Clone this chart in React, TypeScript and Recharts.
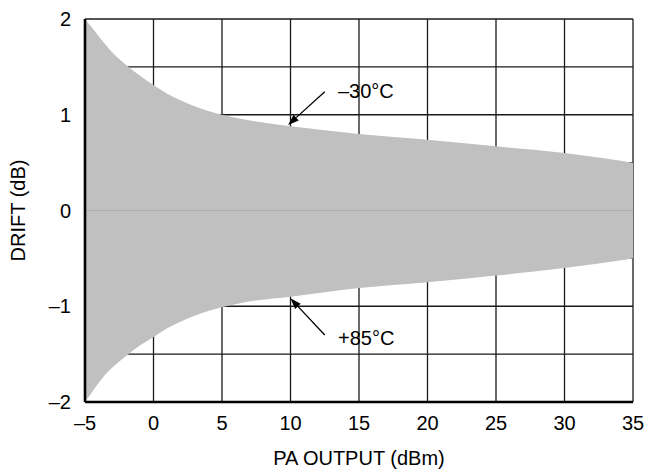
import React from 'react'
import {
  ComposedChart,
  Area,
  XAxis,
  YAxis,
  CartesianGrid,
  ReferenceLine,
  ReferenceDot,
} from 'recharts'

// PA output power (dBm)
const paOutput = [-5, -4.5, -4, -3.5, -3, -2, -1, 0, 1, 2, 3, 4, 5, 7.5, 10, 15, 20, 25, 30, 35]
// drift envelope, -30°C edge (upper) and +85°C edge (lower), dB
const driftCold = [2.0, 1.91, 1.82, 1.73, 1.65, 1.52, 1.41, 1.31, 1.22, 1.15, 1.09, 1.04, 1.0, 0.93, 0.88, 0.8, 0.74, 0.67, 0.6, 0.5]
const driftHot = [-2.0, -1.9, -1.8, -1.71, -1.64, -1.52, -1.41, -1.32, -1.23, -1.16, -1.1, -1.05, -1.01, -0.94, -0.9, -0.81, -0.75, -0.68, -0.6, -0.5]

const xTicks = [-5, 0, 5, 10, 15, 20, 25, 30, 35]
const yTicks = [-2, -1.5, -1, -0.5, 0, 0.5, 1, 1.5, 2]

const data = paOutput.map((x, i) => ({ x, band: [driftHot[i], driftCold[i]] }))

const FONT = '"Liberation Sans", Arial, Helvetica, sans-serif'
const FS = 20

const dash = (v: number) => (v < 0 ? '\u2013' + Math.abs(v) : String(v))

// leader line with a filled head at (x2, y2)
const Arrow = (props: any) => {
  const { x1, y1, x2, y2 } = props
  const ang = Math.atan2(y2 - y1, x2 - x1)
  const len = 11
  const half = 3.8
  const bx = x2 - len * Math.cos(ang)
  const by = y2 - len * Math.sin(ang)
  const px = -Math.sin(ang) * half
  const py = Math.cos(ang) * half
  return (
    <g>
      <line x1={x1} y1={y1} x2={bx} y2={by} stroke="#000" strokeWidth={1.3} />
      <polygon points={`${x2},${y2} ${bx + px},${by + py} ${bx - px},${by - py}`} fill="#000" />
    </g>
  )
}

const YTitle = (props: any) => {
  const vb = props.viewBox
  const cx = vb.x + 18
  const cy = vb.y + vb.height / 2
  return (
    <text
      x={cx}
      y={cy}
      transform={`rotate(-90, ${cx}, ${cy})`}
      textAnchor="middle"
      dominantBaseline="central"
      fontFamily={FONT}
      fontSize={FS}
      fill="#000"
    >
      DRIFT (dB)
    </text>
  )
}

export default function App() {
  return (
    <div style={{ position: 'absolute', left: 0, top: 0, background: '#fff' }}>
      <ComposedChart
        width={647}
        height={476}
        data={data}
        margin={{ top: 19, right: 14, left: 0, bottom: 0 }}
      >
        <CartesianGrid stroke="#1a1a1a" strokeWidth={1.3} />
        <Area
          dataKey="band"
          type="monotone"
          stroke="none"
          fill="#c0c0c0"
          fillOpacity={1}
          isAnimationActive={false}
        />
        <ReferenceLine y={0} stroke="#aeaeae" strokeWidth={1} />
        <ReferenceLine
          segment={[{ x: 12.5, y: 1.24 }, { x: 9.82, y: 0.893 }]}
          shape={Arrow}
        />
        <ReferenceLine
          segment={[{ x: 12.5, y: -1.3 }, { x: 9.99, y: -0.917 }]}
          shape={Arrow}
        />
        <ReferenceDot
          x={13.1}
          y={1.25}
          r={0}
          fill="none"
          stroke="none"
          label={{ value: '\u201330°C', position: 'right', fontFamily: FONT, fontSize: FS, fill: '#000' }}
        />
        <ReferenceDot
          x={13.1}
          y={-1.33}
          r={0}
          fill="none"
          stroke="none"
          label={{ value: '+85°C', position: 'right', fontFamily: FONT, fontSize: FS, fill: '#000' }}
        />
        <XAxis
          dataKey="x"
          type="number"
          domain={[-5, 35]}
          ticks={xTicks}
          interval={0}
          tickFormatter={dash}
          tickLine={false}
          tickSize={0}
          tickMargin={14}
          height={74}
          axisLine={{ stroke: '#000', strokeWidth: 2.6 }}
          tick={{ fill: '#000', fontFamily: FONT, fontSize: FS }}
          label={{
            value: 'PA OUTPUT (dBm)',
            position: 'insideBottom',
            offset: 11,
            fontFamily: FONT,
            fontSize: FS,
            fill: '#000',
          }}
        />
        <YAxis
          type="number"
          domain={[-2, 2]}
          ticks={yTicks}
          interval={0}
          tickFormatter={(v: number) => (Number.isInteger(v) ? dash(v) : '')}
          tickLine={false}
          tickSize={0}
          tickMargin={14}
          width={85}
          axisLine={{ stroke: '#000', strokeWidth: 2.6 }}
          tick={{ fill: '#000', fontFamily: FONT, fontSize: FS }}
          label={<YTitle />}
        />
      </ComposedChart>
    </div>
  )
}
